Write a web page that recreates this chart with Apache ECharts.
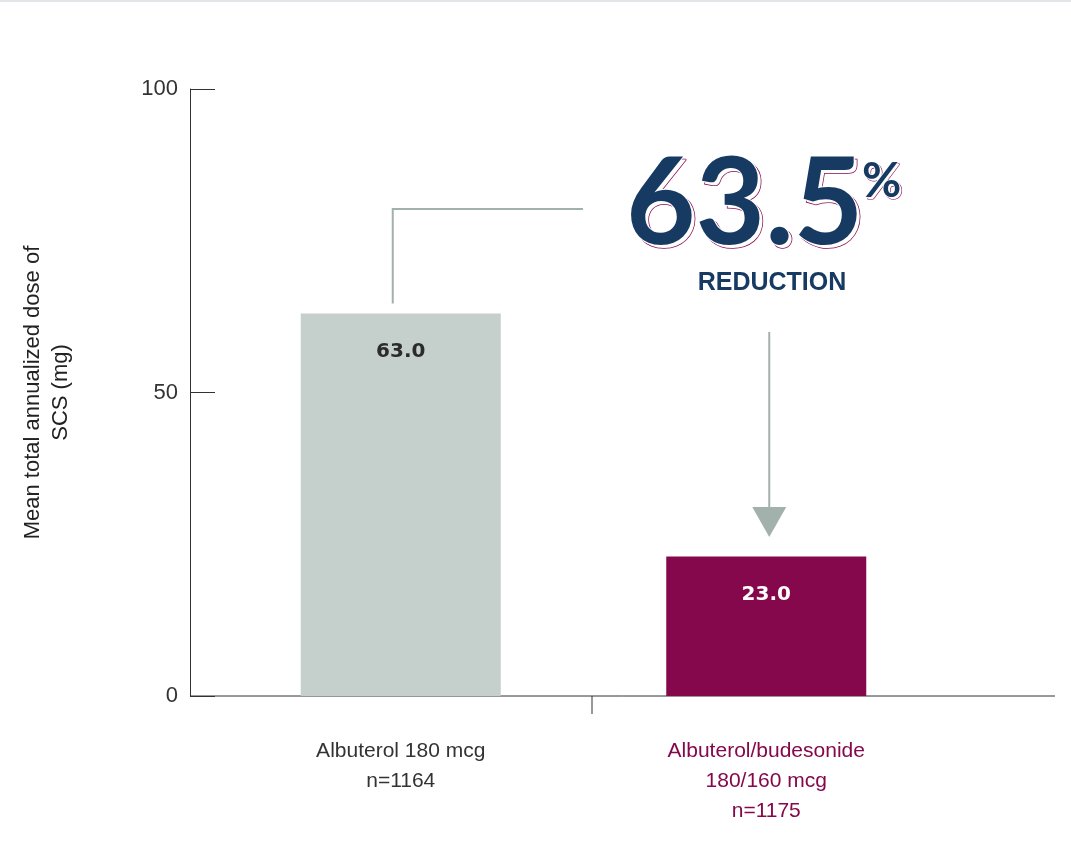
<!DOCTYPE html>
<html><head><meta charset="utf-8">
<script src="https://cdn.jsdelivr.net/npm/echarts@6/dist/echarts.min.js"></script>
<style>html,body{margin:0;padding:0;background:#fff}#c{width:1071px;height:841px;border-top:2px solid #e3e6e8;box-sizing:border-box}</style>
</head><body><div id="c"></div>
<script>
const categories = ['Albuterol 180 mcg\nn=1164', 'Albuterol/budesonide\n180/160 mcg\nn=1175'];
const values = [63.0, 23.0];
const yTicks = [0, 50, 100];
const reductionText = '63.5';
const colors = ['#c5cfcc', '#85084c'];
const labelColors = ['#2b2b2b', '#ffffff'];
const gray = '#a3b1ad', navy = '#173a63', magenta = '#85084c';

const chart = echarts.init(document.getElementById('c'));
chart.setOption({
  animation: false,
  grid: {left: 218, right: 122, top: 87, bottom: 145},
  xAxis: {
    type: 'category', data: categories,
    axisLine: {show: false}, axisTick: {show: false},
    axisLabel: {
      margin: 40, fontSize: 21, lineHeight: 30, fontFamily: 'Liberation Sans, Arial',
      formatter: (v, i) => i === 0 ? '{a|' + v.split('\n').join('}\n{a|') + '}' : '{b|' + v.split('\n').join('}\n{b|') + '}',
      rich: {a: {color: '#333', fontSize: 21, lineHeight: 30}, b: {color: magenta, fontSize: 21, lineHeight: 30}}
    }
  },
  yAxis: {
    type: 'value', min: yTicks[0], max: yTicks[2], interval: 50, offset: 28,
    name: 'Mean total annualized dose of\nSCS (mg)', nameLocation: 'middle', nameGap: 115,
    nameTextStyle: {fontSize: 22, color: '#222', lineHeight: 28, fontFamily: 'Liberation Sans, Arial'},
    axisLine: {show: true, lineStyle: {color: '#333', width: 1}},
    axisTick: {show: true, inside: true, length: 25, lineStyle: {color: '#333'}},
    axisLabel: {fontSize: 22, color: '#333', margin: 12, fontFamily: 'Liberation Sans, Arial'},
    splitLine: {show: false}
  },
  series: [{
    type: 'bar', barWidth: 200,
    data: values.map((v, i) => ({value: v, itemStyle: {color: colors[i]},
      label: {color: labelColors[i]}})),
    label: {show: true, position: 'insideTop', distance: 28, fontSize: 20, fontWeight: 'bold',
      fontFamily: 'DejaVu Sans', formatter: p => p.value.toFixed(1)}
  }]
});

const p0 = chart.convertToPixel({xAxisIndex: 0, yAxisIndex: 0}, [0, values[0]]);
const p1 = chart.convertToPixel({xAxisIndex: 0, yAxisIndex: 0}, [1, values[1]]);
const base = chart.convertToPixel({yAxisIndex: 0}, 0);
const lineX0 = p0[0] - 8;
const big = {text: reductionText, fontSize: 120, fontFamily: 'Lato, Open Sans', fontWeight: 'bold', verticalAlign: 'middle'};
const pct = {text: '%', fontSize: 48, fontFamily: 'Lato, Open Sans', fontWeight: 'bold', verticalAlign: 'middle'};
chart.setOption({graphic: [
  {type: 'line', shape: {x1: 190, y1: base, x2: 1055, y2: base}, style: {stroke: '#333', lineWidth: 1}},
  {type: 'line', shape: {x1: 592, y1: base, x2: 592, y2: base + 18}, style: {stroke: '#333', lineWidth: 1}},
  {type: 'polyline', shape: {points: [[lineX0, p0[1] - 10], [lineX0, 207], [583, 207]]}, style: {stroke: gray, lineWidth: 2, fill: null}},
  {type: 'line', shape: {x1: p1[0] + 3, y1: 330, x2: p1[0] + 3, y2: 506}, style: {stroke: gray, lineWidth: 2}},
  {type: 'polygon', shape: {points: [[p1[0] - 14, 505], [p1[0] + 20, 505], [p1[0] + 3, 535]]}, style: {fill: gray}},
  {type: 'text', x: 629, y: 206, style: Object.assign({fill: '#fff', stroke: magenta, lineWidth: 1.5}, big)},
  {type: 'text', x: 626, y: 203, style: Object.assign({fill: navy, stroke: '#fff', lineWidth: 2}, big)},
  {type: 'text', x: 864, y: 182, style: Object.assign({fill: '#fff', stroke: magenta, lineWidth: 1.2}, pct)},
  {type: 'text', x: 862, y: 180, style: Object.assign({fill: navy, stroke: '#fff', lineWidth: 1.5}, pct)},
  {type: 'text', x: 772, y: 281, style: {text: 'REDUCTION', fontSize: 25, fontFamily: 'Liberation Sans, Arial', fontWeight: 'bold', fill: navy, align: 'center', verticalAlign: 'middle'}}
]});
</script></body></html>
